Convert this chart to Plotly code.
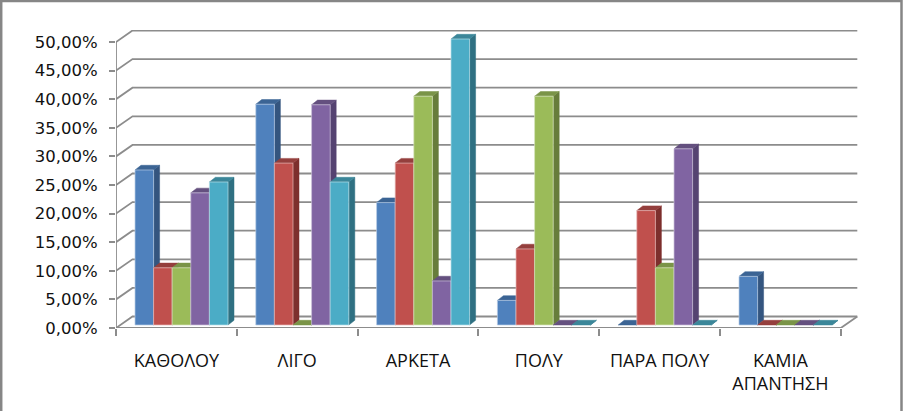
import plotly.graph_objects as go

# Data
categories = ['ΚΑΘΟΛΟΥ', 'ΛΙΓΟ', 'ΑΡΚΕΤΑ', 'ΠΟΛΥ', 'ΠΑΡΑ ΠΟΛΥ', 'ΚΑΜΙΑ<br>ΑΠΑΝΤΗΣΗ']
series_a = [27.1, 38.6, 21.4, 4.3, 0, 8.5]
series_b = [10, 28.3, 28.3, 13.3, 20, 0]
series_c = [10, 0, 40, 40, 10, 0]
series_d = [23.1, 38.5, 7.7, 0, 30.8, 0]
series_e = [25, 25, 50, 0, 0, 0]
y_ticks = [0, 5, 10, 15, 20, 25, 30, 35, 40, 45, 50]
y_labels = ['0,00%', '5,00%', '10,00%', '15,00%', '20,00%', '25,00%',
            '30,00%', '35,00%', '40,00%', '45,00%', '50,00%']

# (values, front, side, top, outline)
series = [
    (series_a, '#4F81BD', '#34557F', '#3B6494', '#B9CDE5'),
    (series_b, '#C0504D', '#7D2F2D', '#943F3D', '#E6B9B8'),
    (series_c, '#9BBB59', '#677D3B', '#7A9448', '#D7E4BD'),
    (series_d, '#8064A2', '#554371', '#64507F', '#CCC1DA'),
    (series_e, '#4BACC6', '#2F7082', '#3B8699', '#B7DEE8'),
]

GRID = '#8C8C8C'
FRAME = '#868686'
# plot box in pixels
LEFT, RIGHT, TOP, BOTTOM = 116, 858, 30, 328
W, H = 903, 411
PX_X = 1 / 120.8   # one pixel in category units
PX_Y = 1 / 5.72    # one pixel in percent units

wall_dx, wall_dy = 16.5 * PX_X, 11.5 * PX_Y
bar_start, bar_w = 19 * PX_X, 18.6 * PX_X
bar_lift = 3 * PX_Y
side_dx, side_dy = 6 * PX_X, 4.7 * PX_Y
n = len(categories)

fig = go.Figure()


def add_poly(xs, ys, fill=None, color=GRID, width=1.8):
    fig.add_trace(go.Scatter(
        x=xs, y=ys, mode='lines', fill='toself' if fill else 'none',
        fillcolor=fill, line=dict(color=color, width=width),
        cliponaxis=False, hoverinfo='skip', showlegend=False))


# walls and floor
gx, gy = [], []
for t in y_ticks:
    gx += [0, wall_dx, n + wall_dx, None]
    gy += [t, t + wall_dy, t + wall_dy, None]
gx += [0, n, n + wall_dx, None, 0, 0]
gy += [0, 0, wall_dy, None, 0, 50]
add_poly(gx, gy)

# bars, faces as polygons computed from the values
for idx, (values, front, side, top, edge) in enumerate(series):
    fx, fy, sx, sy, tx, ty = [], [], [], [], [], []
    for i, v in enumerate(values):
        x0 = i + bar_start + idx * bar_w
        x1 = x0 + bar_w
        y0 = bar_lift
        y1 = y0 + v
        if v > 0:
            fx += [x0, x1, x1, x0, x0, None]
            fy += [y0, y0, y1, y1, y0, None]
        sx += [x1, x1 + side_dx, x1 + side_dx, x1, x1, None]
        sy += [y0, y0 + side_dy, y1 + side_dy, y1, y0, None]
        tx += [x0, x1, x1 + side_dx, x0 + side_dx, x0, None]
        ty += [y1, y1, y1 + side_dy, y1 + side_dy, y1, None]
    add_poly(sx, sy, fill=side, color=side, width=0.5)
    add_poly(tx, ty, fill=top, color=top, width=0.5)
    add_poly(fx, fy, fill=front, color=edge, width=0.7)

fig.update_layout(
    width=W, height=H,
    margin=dict(l=LEFT, r=W - RIGHT, t=TOP, b=H - BOTTOM),
    paper_bgcolor='white', plot_bgcolor='white',
    xaxis=dict(
        range=[0, (RIGHT - LEFT) * PX_X],
        tickvals=[i + 0.5 for i in range(n)], ticktext=categories,
        ticks='', showgrid=False, zeroline=False, showline=False,
        ticklabelstandoff=20,
        tickfont=dict(family='Open Sans', size=18, color='#111111'),
        minor=dict(tickvals=list(range(n + 1)), ticks='outside', ticklen=7,
                   tickwidth=2, tickcolor=GRID, showgrid=False),
    ),
    yaxis=dict(
        range=[0, (BOTTOM - TOP) * PX_Y],
        tickvals=y_ticks, ticktext=y_labels,
        ticks='outside', ticklen=6, tickwidth=2, tickcolor=GRID,
        showgrid=False, zeroline=False, showline=False,
        ticklabelstandoff=8,
        tickfont=dict(family='DejaVu Sans', size=16.5, color='#111111'),
    ),
    # outer frame of the pasted picture
    shapes=[dict(type='rect', xref='paper', yref='paper',
                 x0=(1.2 - LEFT) / (RIGHT - LEFT), x1=(W - 1.5 - LEFT) / (RIGHT - LEFT),
                 y0=(BOTTOM - H - 5) / (BOTTOM - TOP), y1=(BOTTOM - 1) / (BOTTOM - TOP),
                 line=dict(color=FRAME, width=2.5), layer='below')],
)

fig.write_html('out.html', config={'displayModeBar': False},
               post_script="document.body.style.margin='0';document.body.style.overflow='hidden';")
